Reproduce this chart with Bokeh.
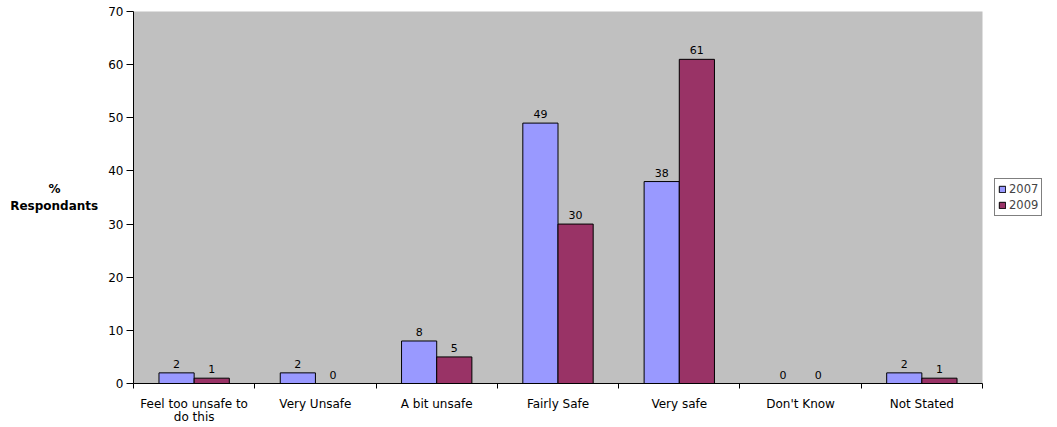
from bokeh.plotting import figure
from bokeh.models import ColumnDataSource, FixedTicker, Legend, LegendItem, Range1d
from bokeh.transform import dodge
from bokeh.core.properties import value
from bokeh.embed import file_html
from bokeh.resources import INLINE

categories = ["Feel too unsafe to\ndo this", "Very Unsafe", "A bit unsafe", "Fairly Safe",
              "Very safe", "Don't Know", "Not Stated"]
v2007 = [2, 2, 8, 49, 38, 0, 2]
v2009 = [1, 0, 5, 30, 61, 0, 1]
series_names = ["2007", "2009"]
y_ticks = [0, 10, 20, 30, 40, 50, 60, 70]
y_title = "%" + "\u00a0" * 9 + "\nRespondants"

FONT = "DejaVu Sans"
FS = "12px"

xs = [i + 0.5 for i in range(len(categories))]
src = ColumnDataSource(dict(x=xs, v2007=v2007, v2009=v2009,
                            l2007=[str(v) for v in v2007], l2009=[str(v) for v in v2009]))

p = figure(x_range=Range1d(0, len(categories)), y_range=Range1d(0, 70),
           frame_width=849, frame_height=372,
           output_backend="svg", toolbar_location=None,
           min_border_left=133, min_border_top=11, min_border_bottom=10, min_border_right=0,
           background_fill_color="#C0C0C0", border_fill_color="white",
           outline_line_color=None)
p.xgrid.visible = False
p.ygrid.visible = False

bw = 0.29
r1 = p.vbar(x=dodge("x", -bw / 2), top="v2007", width=bw, source=src,
            fill_color="#9999FF", line_color="black", line_width=1)
r2 = p.vbar(x=dodge("x", bw / 2), top="v2009", width=bw, source=src,
            fill_color="#993366", line_color="black", line_width=1)

for fld, lab, off in (("v2007", "l2007", -bw / 2), ("v2009", "l2009", bw / 2)):
    p.text(x=dodge("x", off), y=fld, text=lab, source=src, text_align="center",
           text_baseline="bottom", y_offset=-5, text_font=value(FONT),
           text_font_size="11px", text_color="black")

# y axis
p.yaxis.ticker = FixedTicker(ticks=y_ticks)
p.yaxis.major_tick_out = 7
p.yaxis.major_tick_in = 0
p.yaxis.minor_tick_out = 0
p.yaxis.minor_tick_in = 0
p.yaxis.axis_line_color = "black"
p.yaxis.major_label_text_font = FONT
p.yaxis.major_label_text_font_size = FS
p.yaxis.major_label_text_color = "black"
p.yaxis.major_label_standoff = 3
p.yaxis.axis_label = y_title
p.yaxis.axis_label_orientation = "horizontal"
p.yaxis.axis_label_text_font = FONT
p.yaxis.axis_label_text_font_size = "12px"
p.yaxis.axis_label_text_font_style = "bold"
p.yaxis.axis_label_text_color = "black"
p.yaxis.axis_label_standoff = 7

# x axis: labels at centers, ticks at boundaries
p.xaxis.ticker = FixedTicker(ticks=xs, minor_ticks=list(range(len(categories) + 1)))
p.xaxis.major_label_overrides = {x: c for x, c in zip(xs, categories)}
p.xaxis.major_tick_out = 0
p.xaxis.major_tick_in = 0
p.xaxis.minor_tick_out = 5
p.xaxis.minor_tick_in = 0
p.xaxis.axis_line_color = "black"
p.xaxis.major_label_text_font = FONT
p.xaxis.major_label_text_font_size = FS
p.xaxis.major_label_text_color = "black"
p.xaxis.major_label_text_line_height = 0.95
p.xaxis.major_label_standoff = 8

legend = Legend(items=[LegendItem(label=series_names[0], renderers=[r1]),
                       LegendItem(label=series_names[1], renderers=[r2])],
                location="center_left", border_line_color="black", border_line_width=1,
                glyph_width=8, glyph_height=8, label_text_font=FONT,
                label_text_font_size="11.5px", label_height=12, padding=3, spacing=2,
                margin=12, label_standoff=3, background_fill_color="white")
p.add_layout(legend, "right")

open("out.html", "w").write(file_html(p, INLINE))
